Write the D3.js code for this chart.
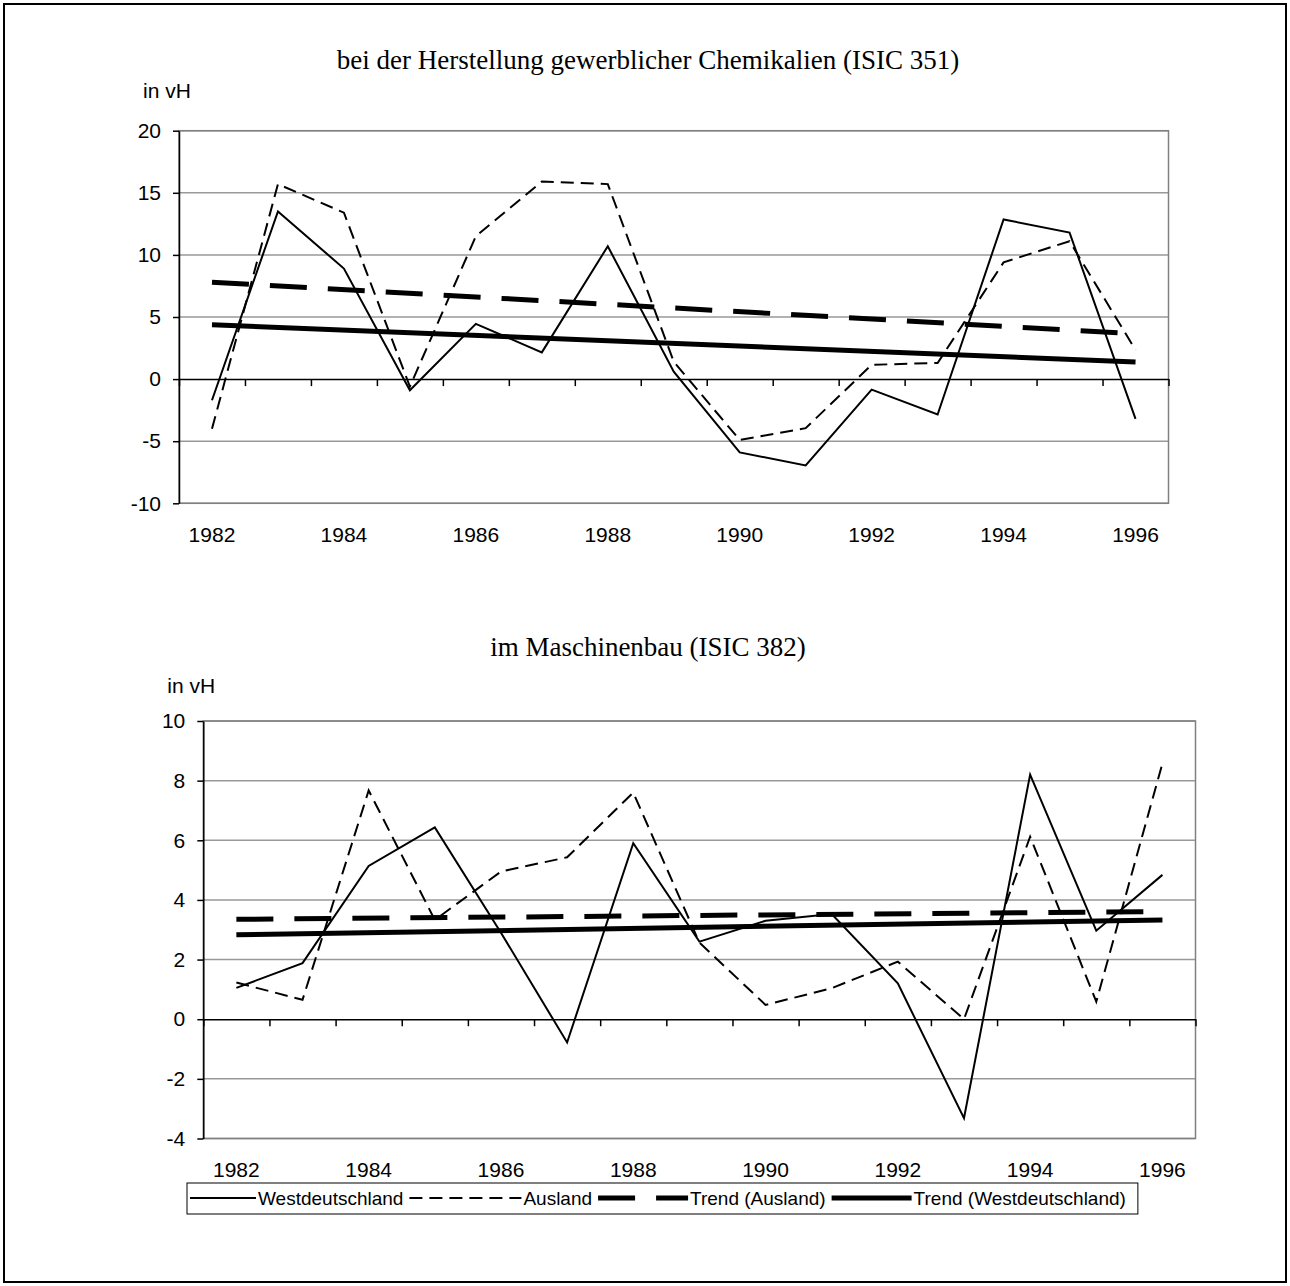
<!DOCTYPE html>
<html>
<head>
<meta charset="utf-8">
<script src="https://cdn.jsdelivr.net/npm/d3@7"></script>
<style>
  body { margin: 0; background: #fff; }
  svg text { font-family: "Liberation Sans", Arial, sans-serif; fill: #000; }
</style>
</head>
<body>
<svg width="1290" height="1286"></svg>
<script>
// Jahre und Beschriftungen
const years = [1982, 1983, 1984, 1985, 1986, 1987, 1988, 1989, 1990, 1991, 1992, 1993, 1994, 1995, 1996];
const yearLabels = [1982, 1984, 1986, 1988, 1990, 1992, 1994, 1996];

// ISIC 351 - gewerbliche Chemikalien
const chemTicks = [-10, -5, 0, 5, 10, 15, 20];
const chemWest = [-1.7, 13.5, 8.9, -0.9, 4.45, 2.15, 10.7, 0.6, -5.9, -6.95, -0.85, -2.85, 12.85, 11.8, -3.2];
const chemAusland = [-4.0, 15.7, 13.4, -0.6, 11.5, 15.9, 15.7, 1.4, -4.9, -3.95, 1.15, 1.3, 9.4, 11.1, 2.35];
const chemTrendAusland = [7.8, 3.65];
const chemTrendWest = [4.37, 1.37];

// ISIC 382 - Maschinenbau
const machTicks = [-4, -2, 0, 2, 4, 6, 8, 10];
const machWest = [1.05, 1.88, 5.14, 6.43, 2.9, -0.78, 5.9, 2.6, 3.3, 3.53, 1.2, -3.32, 8.2, 2.97, 4.84];
const machAusland = [1.23, 0.65, 7.67, 3.33, 4.95, 5.43, 7.6, 2.57, 0.48, 1.04, 1.93, 0.0, 6.12, 0.59, 8.58];
const machTrendAusland = [3.35, 3.61];
const machTrendWest = [2.83, 3.33];

const seriesNames = ["Westdeutschland", "Ausland", "Trend (Ausland)", "Trend (Westdeutschland)"];

const styles = {
  "Westdeutschland": { width: 2, dash: null, sample: 66 },
  "Ausland": { width: 2, dash: "13,7", sample: 112 },
  "Trend (Ausland)": { width: 5, dash: "37,21", sample: 90 },
  "Trend (Westdeutschland)": { width: 5, dash: null, sample: 80 }
};

const svg = d3.select("svg");

// Rahmen um die ganze Abbildung
svg.append("rect")
  .attr("x", 4).attr("y", 4)
  .attr("width", 1282).attr("height", 1278)
  .attr("fill", "none")
  .attr("stroke", "#000")
  .attr("stroke-width", 2);

function drawPanel(p) {
  const g = svg.append("g");

  const x = d3.scaleBand().domain(years).range([p.left, p.right]).padding(0);
  const xb = d3.scaleLinear().domain([0, years.length]).range([p.left, p.right]);
  const y = d3.scaleLinear().domain([p.ticks[0], p.ticks[p.ticks.length - 1]]).range([p.bottom, p.top]);

  // Titel
  g.append("text")
    .attr("x", 648).attr("y", p.titleY)
    .attr("text-anchor", "middle")
    .style("font-family", "'Liberation Serif', 'Times New Roman', serif")
    .style("font-size", "27px")
    .text(p.title);

  g.append("text")
    .attr("x", p.left - 36).attr("y", p.unitY)
    .style("font-size", "21px")
    .text("in vH");

  // Gitterlinien
  g.append("g").selectAll("line")
    .data(p.ticks.filter(t => t !== 0))
    .join("line")
    .attr("x1", p.left).attr("x2", p.right)
    .attr("y1", d => y(d)).attr("y2", d => y(d))
    .attr("stroke", "#999")
    .attr("stroke-width", 1.5);

  g.append("rect")
    .attr("x", p.left).attr("y", p.top)
    .attr("width", p.right - p.left).attr("height", p.bottom - p.top)
    .attr("fill", "none")
    .attr("stroke", "#808080")
    .attr("stroke-width", 1.5);

  // y-Achse (Bindestrich statt Minuszeichen wie im Original)
  const ya = g.append("g")
    .attr("transform", `translate(${p.left},0)`)
    .call(d3.axisLeft(y).tickValues(p.ticks).tickFormat(d => String(d))
      .tickSize(6).tickSizeOuter(0).tickPadding(12));
  ya.attr("font-family", null).attr("font-size", null);
  ya.selectAll("line, path").attr("stroke", "#000").attr("stroke-width", 1.5);
  ya.selectAll("text").style("font-size", "21px");

  // Nulllinie mit Strichen zwischen den Jahren
  const za = g.append("g")
    .attr("transform", `translate(0,${y(0)})`)
    .call(d3.axisBottom(xb).tickValues(d3.range(0, years.length + 1)).tickFormat("").tickSize(7).tickSizeOuter(0));
  za.selectAll("line, path").attr("stroke", "#000").attr("stroke-width", 1.5);

  // Jahresbeschriftung unten
  const xa = g.append("g")
    .attr("transform", `translate(0,${p.bottom})`)
    .call(d3.axisBottom(x).tickValues(yearLabels).tickSize(0).tickPadding(24));
  xa.attr("font-family", null).attr("font-size", null);
  xa.select(".domain").remove();
  xa.selectAll("text").style("font-size", "21px");

  const cx = yr => x(yr) + x.bandwidth() / 2;
  const line = d3.line().x(d => cx(d.year)).y(d => y(d.v));
  const first = years[0], last = years[years.length - 1];

  const series = [
    { name: "Westdeutschland", pts: years.map((yr, i) => ({ year: yr, v: p.west[i] })) },
    { name: "Ausland", pts: years.map((yr, i) => ({ year: yr, v: p.ausland[i] })) },
    { name: "Trend (Ausland)", pts: [{ year: first, v: p.trendAusland[0] }, { year: last, v: p.trendAusland[1] }] },
    { name: "Trend (Westdeutschland)", pts: [{ year: first, v: p.trendWest[0] }, { year: last, v: p.trendWest[1] }] }
  ];

  g.append("g").selectAll("path")
    .data(series)
    .join("path")
    .attr("d", d => line(d.pts))
    .attr("fill", "none")
    .attr("stroke", "#000")
    .attr("stroke-width", d => styles[d.name].width)
    .attr("stroke-dasharray", d => styles[d.name].dash)
    .attr("stroke-linejoin", "miter")
    .attr("stroke-linecap", "butt");
}

drawPanel({
  title: "bei der Herstellung gewerblicher Chemikalien (ISIC 351)",
  titleY: 69, unitY: 98,
  left: 179, right: 1168.5, top: 130.7, bottom: 503.3,
  ticks: chemTicks,
  west: chemWest, ausland: chemAusland,
  trendAusland: chemTrendAusland, trendWest: chemTrendWest
});

drawPanel({
  title: "im Maschinenbau (ISIC 382)",
  titleY: 656, unitY: 693,
  left: 203.3, right: 1195.5, top: 721, bottom: 1138.5,
  ticks: machTicks,
  west: machWest, ausland: machAusland,
  trendAusland: machTrendAusland, trendWest: machTrendWest
});

// Legende
const legend = svg.append("g");
const legendY = 1198;
let lx = 190;
seriesNames.forEach(name => {
  const st = styles[name];
  legend.append("line")
    .attr("x1", lx).attr("x2", lx + st.sample)
    .attr("y1", legendY).attr("y2", legendY)
    .attr("stroke", "#000")
    .attr("stroke-width", st.width)
    .attr("stroke-dasharray", st.dash);
  const t = legend.append("text")
    .attr("x", lx + st.sample + 2).attr("y", legendY + 7)
    .style("font-size", "19px")
    .text(name);
  lx += st.sample + 2 + t.node().getComputedTextLength() + 6;
});
legend.insert("rect", ":first-child")
  .attr("x", 187).attr("y", legendY - 15)
  .attr("width", lx - 187 + 6).attr("height", 31)
  .attr("fill", "#fff")
  .attr("stroke", "#000")
  .attr("stroke-width", 1);
</script>
</body>
</html>
